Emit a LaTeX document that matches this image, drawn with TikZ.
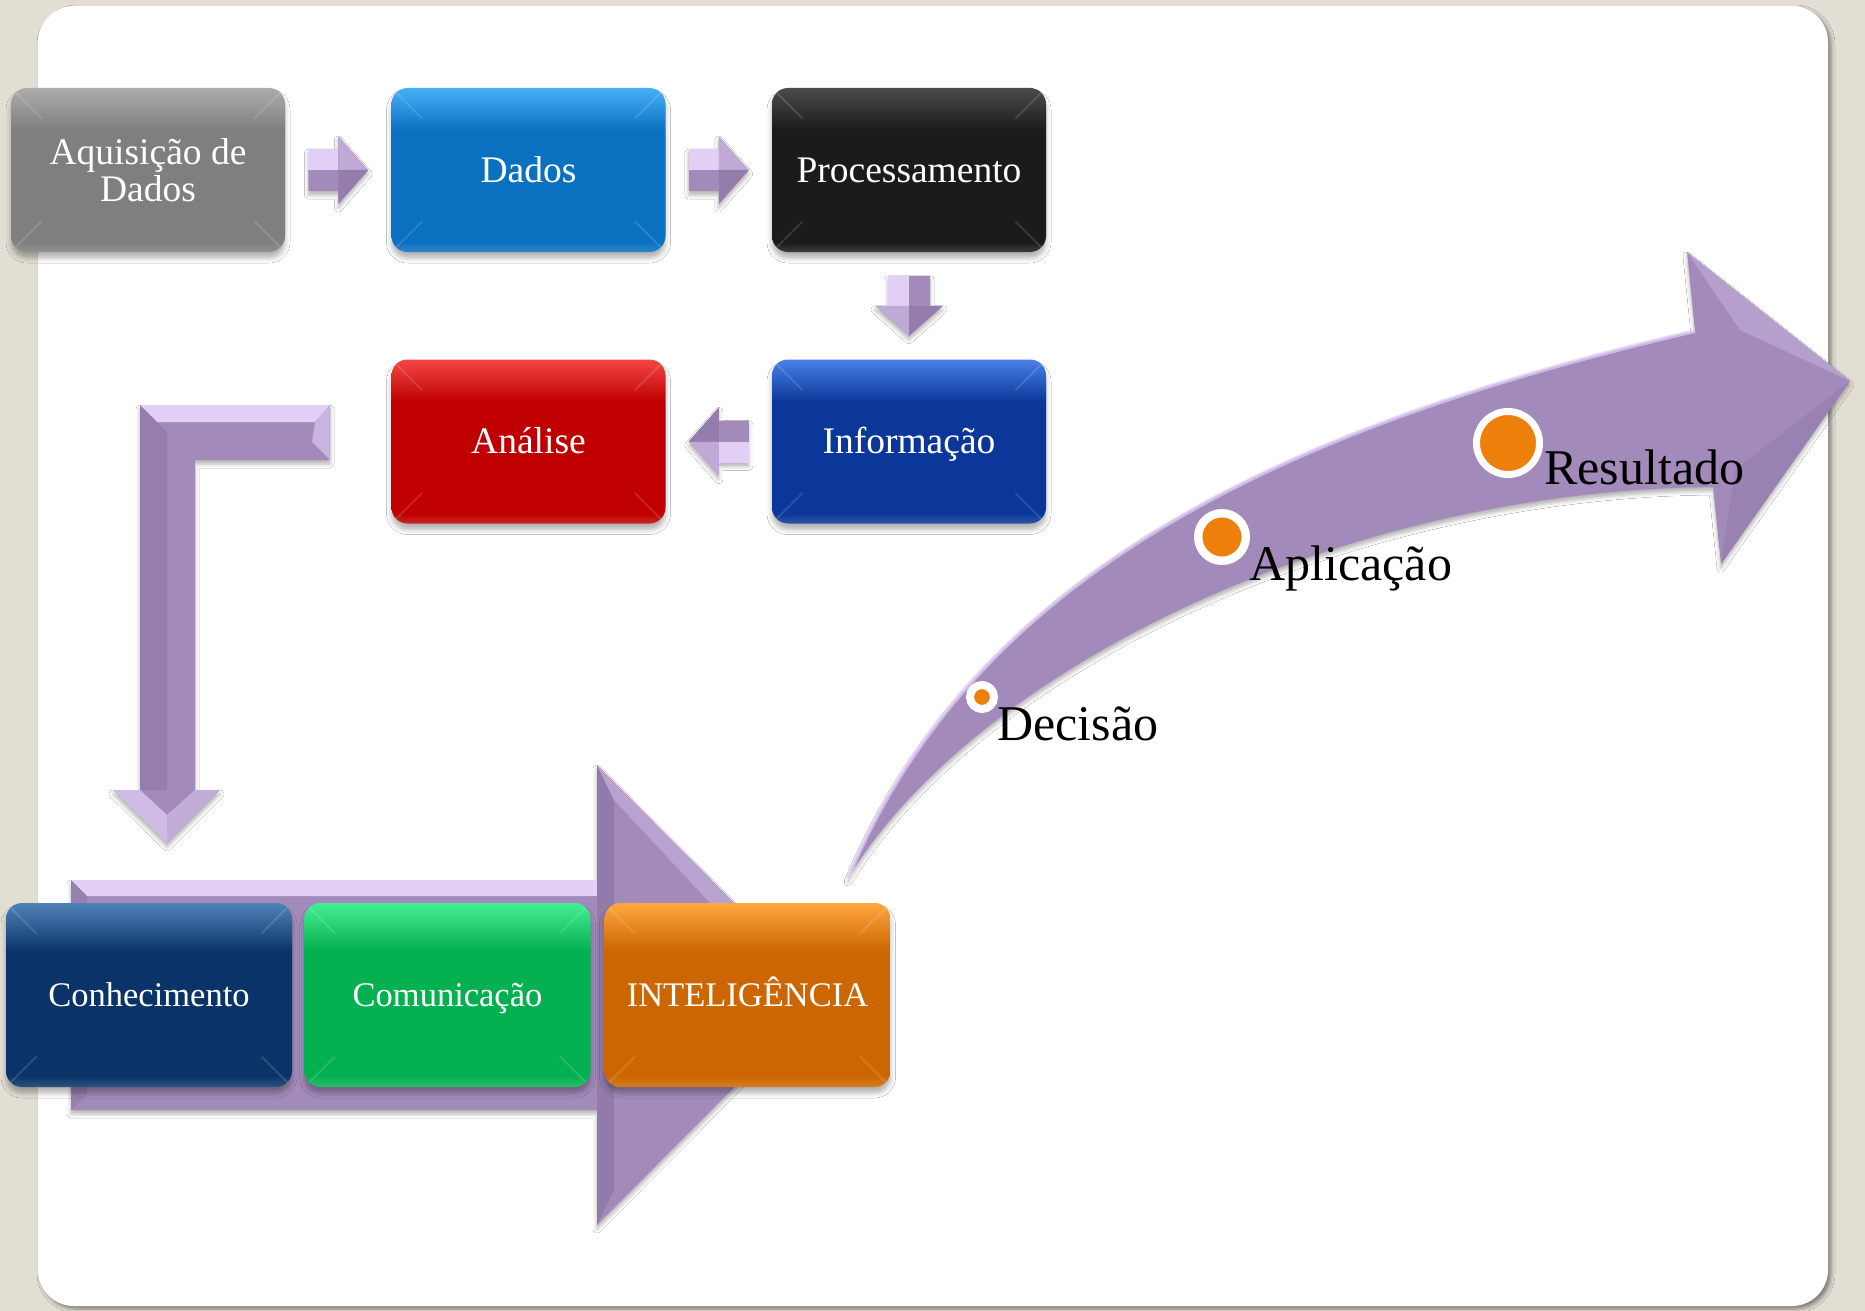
\documentclass[tikz,border=0pt]{standalone}
\usepackage{fontspec}
\setmainfont{Liberation Serif}
\usetikzlibrary{calc,shadows.blur}

\definecolor{pagebg}{HTML}{E3DED3}
\definecolor{arrowbase}{HTML}{A28BBB}
\definecolor{arrowlight}{HTML}{E2CFF6}
\definecolor{arrowdark}{HTML}{8A74A4}
\definecolor{dotorange}{HTML}{EE7F0A}

% box colours (top highlight / body)
\definecolor{grayT}{HTML}{ABABAB}   \definecolor{grayB}{HTML}{7F7F7F}
\definecolor{skyT}{HTML}{45B0F7}    \definecolor{skyB}{HTML}{0A70C0}
\definecolor{blackT}{HTML}{4A4A4A}  \definecolor{blackB}{HTML}{1B1B1B}
\definecolor{royalT}{HTML}{4A7FE6}  \definecolor{royalB}{HTML}{0A3799}
\definecolor{redT}{HTML}{F24545}    \definecolor{redB}{HTML}{C00000}
\definecolor{navyT}{HTML}{4F82B8}   \definecolor{navyB}{HTML}{0A3468}
\definecolor{greenT}{HTML}{45EE92}  \definecolor{greenB}{HTML}{05B050}
\definecolor{orangeT}{HTML}{FFA740} \definecolor{orangeB}{HTML}{CC6600}

\colorlet{boxtop}{white}
\colorlet{boxbase}{gray}
\pgfdeclareverticalshading[boxtop,boxbase]{bevelbox}{100bp}{%
  color(0bp)=(boxbase!85!white); color(25bp)=(boxbase!85!white);
  color(28bp)=(boxbase); color(62bp)=(boxbase);
  color(71bp)=(boxtop!70!boxbase); color(75bp)=(boxtop); color(100bp)=(boxtop)}

\tikzset{
  tint/.style 2 args={/utils/exec={\colorlet{boxtop}{#1}\colorlet{boxbase}{#2}},
    shade, shading=bevelbox},
  boxbasic/.style={rectangle, rounded corners=8pt, text=white, align=center,
    inner sep=0pt,
    blur shadow={shadow xshift=0pt, shadow yshift=-3pt, shadow opacity=30,
      shadow blur radius=2.5pt}},
  topbox/.style={boxbasic, minimum width=137pt, minimum height=82pt,
    font=\fontsize{18.75}{18.5}\selectfont},
  lowbox/.style={boxbasic, minimum width=143pt, minimum height=92pt,
    font=\fontsize{17.25}{19}\selectfont, text height=11.4pt, text depth=0pt},
  oneline/.style={text height=12.4pt, text depth=0pt},
  arrowshadow/.style={blur shadow={shadow xshift=0pt, shadow yshift=-2pt,
    shadow opacity=30, shadow blur radius=2pt}},
  stage/.style={circle, fill=dotorange, draw=white, inner sep=0pt},
  stagelabel/.style={anchor=base west, inner sep=0pt, text=black,
    font=\fontsize{25}{30}\selectfont},
  blockarrow/.pic={
    \fill[arrowbase, arrowshadow]
      (-30,-21) -- (0,-21) -- (0,-34) -- (30,0) -- (0,34) -- (0,21)
      -- (-30,21) -- cycle;
    \fill[arrowlight] (-30,-21) -- (0,-21) -- (0,0) -- (-30,0) -- cycle;
    \fill[arrowlight!45!arrowbase] (0,-34) -- (30,0) -- (0,0) -- cycle;
    \fill[arrowdark!60!arrowbase] (0,34) -- (30,0) -- (0,0) -- cycle;
  }
}

\begin{document}
\begin{tikzpicture}[x=0.5pt, y=-0.5pt]
\useasboundingbox (0,0) rectangle (1865,1311);
\fill[pagebg] (0,0) rectangle (1865,1311);

% white card
\fill[white, rounded corners=18pt,
  blur shadow={shadow xshift=1.5pt, shadow yshift=-1.5pt, shadow opacity=45,
    shadow blur radius=2pt}]
  (38,6) rectangle (1828,1306);

% wide arrow behind the bottom row
\fill[arrowbase, arrowshadow]
  (71,880) -- (597,880) -- (597,765) -- (826,995) -- (597,1225)
  -- (597,1110) -- (71,1110) -- cycle;
\fill[arrowlight] (71,880) -- (597,880) -- (612,896) -- (87,896) -- cycle;
\fill[arrowdark!50!arrowbase] (71,880) -- (87,896) -- (87,1094) -- (71,1110) -- cycle;
\fill[arrowdark!70!arrowbase] (597,765) -- (614,800) -- (614,1190) -- (597,1225) -- cycle;
\fill[arrowlight!35!arrowbase] (597,765) -- (826,995) -- (796,995) -- (614,800) -- cycle;

% bottom row
\node[lowbox, tint={navyT}{navyB}]     (con)   at (149,995)   {Conhecimento};
\node[lowbox, tint={greenT}{greenB}]   (com)   at (447.5,995) {Comunicação};
\node[lowbox, tint={orangeT}{orangeB}] (intel) at (747.5,995) {INTELIGÊNCIA};

% rising curved arrow
\fill[arrowbase, arrowshadow]
  (848,878) .. controls (975,570) and (1290,425) .. (1695,331)
  -- (1687,252) -- (1850,381) -- (1721,564) -- (1713,487)
  .. controls (1340,490) and (975,670) .. (848,878) -- cycle;
\draw[arrowlight, line width=2pt, opacity=.7]
  (848,878) .. controls (975,570) and (1290,425) .. (1695,331);
\fill[arrowlight!30!arrowbase] (1687,252) -- (1850,381) -- (1740,330) -- cycle;
\fill[arrowdark!40!arrowbase] (1721,564) -- (1850,381) -- (1735,470) -- cycle;

% bent arrow down to the bottom row
\fill[arrowbase, arrowshadow]
  (140,405) -- (330,405) -- (330,460) -- (195,460) -- (195,790)
  -- (220,790) -- (167,843) -- (113,790) -- (140,790) -- cycle;
\fill[arrowlight] (140,405) -- (330,405) -- (315,422) -- (157,422) -- cycle;
\fill[arrowdark!55!arrowbase] (140,405) -- (167,432) -- (167,790) -- (140,790) -- cycle;
\fill[arrowlight!60!arrowbase] (330,405) -- (330,460) -- (312,442) -- (315,422) -- cycle;
\fill[arrowlight!70!arrowbase] (113,790) -- (140,790) -- (167,815) -- (167,843) -- cycle;
\fill[arrowlight!50!arrowbase] (220,790) -- (195,790) -- (167,815) -- (167,843) -- cycle;

% upper flow
\node[topbox, tint={grayT}{grayB}]           (aq)    at (148,170)   {Aquisição de\\Dados};
\node[topbox, oneline, tint={skyT}{skyB}]     (dados) at (528.5,170) {Dados};
\node[topbox, oneline, tint={blackT}{blackB}] (proc)  at (909,170)   {Processamento};
\node[topbox, oneline, tint={royalT}{royalB}] (inf)   at (909,441.5) {Informação};
\node[topbox, oneline, tint={redT}{redB}]     (ana)   at (528.5,441.5) {Análise};

% bevel corner lines
\foreach \n in {aq,dados,proc,inf,ana,con,com,intel}{
  \draw[white, opacity=.13, line width=1pt]
    ($(\n.north west)+(5,5)$) -- ++(26,26)
    ($(\n.north east)+(-5,5)$) -- ++(-26,26)
    ($(\n.south west)+(5,-5)$) -- ++(26,-26)
    ($(\n.south east)+(-5,-5)$) -- ++(-26,-26);
}

% chevrons between the steps
\pic at ($(aq.east)!.5!(dados.west)$) {blockarrow};
\pic at ($(dados.east)!.5!(proc.west)$) {blockarrow};
\pic[rotate=-90, yscale=-1] at ($(proc.south)!.5!(inf.north)$) {blockarrow};
\pic[rotate=180] at ($(inf.west)!.5!(ana.east)$) {blockarrow};

% stages along the curved arrow
\node[stage, minimum size=12pt, line width=4pt]     (dec) at (982,697)  {};
\node[stage, minimum size=23.8pt, line width=4.2pt] (apl) at (1222,537) {};
\node[stage, minimum size=31.5pt, line width=3.5pt] (res) at (1508,443) {};
\node[stagelabel] (decl) at (997,740)  {Decisão};
\node[stagelabel] (apll) at (1249,580) {Aplicação};
\node[stagelabel] (resl) at (1544,484) {Resultado};
\end{tikzpicture}
\end{document}
